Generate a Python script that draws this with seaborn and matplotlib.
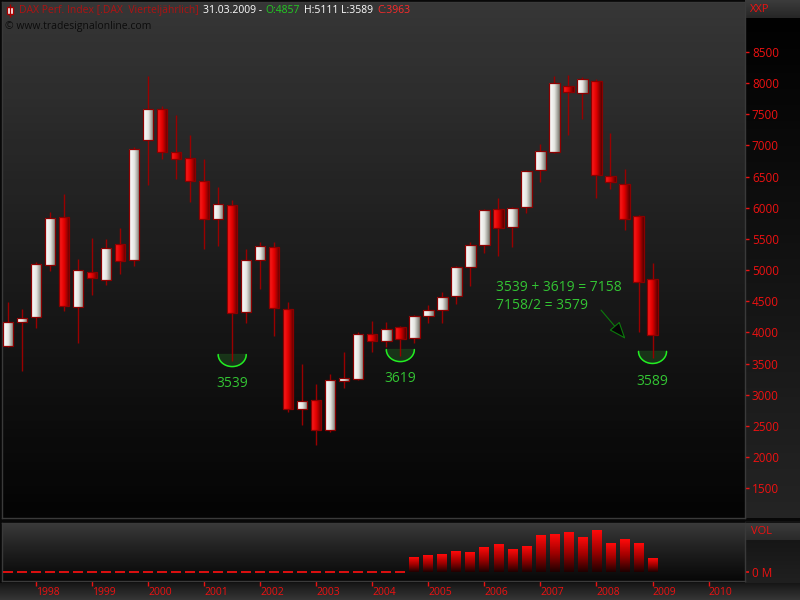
import numpy as np
import pandas as pd
import matplotlib
matplotlib.use("Agg")
import matplotlib.pyplot as plt
import seaborn as sns
from matplotlib.colors import LinearSegmentedColormap

# ------------------------------------------
# DATA: DAX quarterly candles, Q3 1997 .. Q1 2009
# ------------------------------------------
quarters = pd.period_range("1997Q3", "2009Q1", freq="Q").astype(str).tolist()
opens = [3781, 4166, 4250, 5081, 5852, 4400, 4969, 4840, 5418, 5161,
         7087, 7585, 6895, 6799, 6429, 5819, 6044, 4327, 5161, 5370,
         4375, 2770, 2914, 2433, 3219, 3251, 3973, 3861, 4086, 3909,
         4262, 4358, 4584, 5049, 5402, 5980, 5691, 6012, 6606, 6895,
         7954, 7842, 8035, 6510, 6381, 5868, 4857]
highs = [4487, 4375, 5130, 5932, 6221, 5180, 5514, 5498, 5675, 6975,
         8115, 7633, 7489, 7168, 6783, 6333, 6124, 5338, 5450, 5450,
         4487, 3492, 3171, 3332, 3685, 4005, 4182, 4166, 4102, 4278,
         4439, 4648, 5060, 5450, 5980, 6157, 6005, 6600, 7023, 8115,
         8131, 8099, 8067, 7200, 6622, 5880, 5111]
lows = [3760, 3380, 4070, 4985, 4343, 3830, 4600, 4760, 4937, 5065,
        6365, 6783, 6462, 6092, 5338, 5386, 3539, 4150, 4696, 3941,
        2722, 2513, 2192, 2400, 3107, 3235, 3685, 3765, 3619, 3829,
        4150, 4150, 4455, 4744, 5274, 5225, 5370, 5916, 6413, 6880,
        7168, 7425, 6157, 6301, 5643, 4006, 3589]
closes = [4166, 4225, 5097, 5830, 4423, 5002, 4870, 5360, 5150, 6950,
          7590, 6898, 6790, 6434, 5825, 6058, 4310, 5160, 5390, 4385,
          2770, 2895, 2430, 3230, 3260, 3968, 3858, 4052, 3893, 4258,
          4352, 4575, 5046, 5405, 5968, 5680, 6000, 6594, 6905, 7995,
          7860, 8060, 6530, 6410, 5825, 4810, 3963]
# volume (relative units), zero until Q3 2004
volumes = [0, 0, 0, 0, 0, 0, 0, 0, 0, 0,
           0, 0, 0, 0, 0, 0, 0, 0, 0, 0,
           0, 0, 0, 0, 0, 0, 0, 0, 0, 4.4,
           5.0, 5.3, 6.2, 5.9, 7.4, 8.3, 6.8, 7.7, 11.0, 11.3,
           11.9, 10.4, 12.5, 8.6, 9.8, 8.6, 4.1]
years = ['1998', '1999', '2000', '2001', '2002', '2003', '2004',
         '2005', '2006', '2007', '2008', '2009', '2010']
marked_lows = ['2001Q3', '2004Q3', '2009Q1']

df = pd.DataFrame({'quarter': quarters, 'open': opens, 'high': highs,
                   'low': lows, 'close': closes, 'volume': volumes})
df['pos'] = np.arange(len(df))
df['up'] = df['close'] >= df['open']

# ------------------------------------------
# STYLE
# ------------------------------------------
sns.set_theme(style="dark")
plt.rcParams['font.family'] = ['Open Sans', 'DejaVu Sans']
RED = '#ee1111'
GREEN = '#33c433'

red_cmap = LinearSegmentedColormap.from_list('rb', ['#ff2020', '#e00000', '#550000'])
white_cmap = LinearSegmentedColormap.from_list('wb', ['#ffffff', '#e6e6e2', '#76766c'])
vol_cmap = LinearSegmentedColormap.from_list('vb', ['#200000', '#a00000', '#ff0a0a'])
bg_cmap = LinearSegmentedColormap.from_list('bg', ['#363636', '#1c1c1c', '#040404'])
hgrad = np.linspace(0, 1, 64).reshape(1, -1)
vgrad = np.linspace(0, 1, 64).reshape(-1, 1)

W, H = 800, 600
def px(l, t, r, b):
    return [l / W, 1 - b / H, (r - l) / W, (b - t) / H]

fig = plt.figure(figsize=(8, 6), dpi=100, facecolor='#080808')

# background strips (pixel space)
bg = fig.add_axes([0, 0, 1, 1])
bg.set_xlim(0, W); bg.set_ylim(H, 0); bg.axis('off')
bg.imshow(vgrad, extent=[745, 800, 518, 0], cmap=LinearSegmentedColormap.from_list('rs', ['#000000', '#242424']), aspect='auto')
bg.imshow(vgrad, extent=[745, 800, 18, 0], cmap=LinearSegmentedColormap.from_list('xb', ['#3c3c3c', '#262626']), aspect='auto')
bg.imshow(vgrad, extent=[745, 800, 583, 521], cmap=LinearSegmentedColormap.from_list('vs', ['#121212', '#202020']), aspect='auto')
bg.imshow(vgrad, extent=[745, 800, 540, 523], cmap=LinearSegmentedColormap.from_list('vl', ['#3c3c3c', '#2a2a2a']), aspect='auto')
bg.imshow(vgrad, extent=[0, 800, 600, 583], cmap=LinearSegmentedColormap.from_list('bs', ['#161616', '#363636']), aspect='auto')
bg.set_xlim(0, W); bg.set_ylim(H, 0)
bg.text(750, 10, 'XXP', color=RED, fontsize=8, va='center')
bg.text(751, 531, 'VOL', color=RED, fontsize=8, va='center')

# ------------------------------------------
# MAIN CANDLE PANEL
# ------------------------------------------
ax = fig.add_axes(px(2, 2, 745, 518))
ax.imshow(vgrad, extent=[0, 1, 0, 1], transform=ax.transAxes, cmap=bg_cmap,
          aspect='auto', zorder=0)

ax.vlines(df['pos'], df['low'], df['high'], color='#990000', lw=1, zorder=2)
body_bottom = df[['open', 'close']].min(axis=1)
body_height = (df['close'] - df['open']).abs()
bars = ax.bar(df['pos'], body_height, bottom=body_bottom, width=0.74,
              facecolor='none', edgecolor='#8b0000', lw=0.9, zorder=4)
for bar, up in zip(bars, df['up']):
    x0, y0 = bar.get_x(), bar.get_y()
    im = ax.imshow(hgrad, extent=[x0, x0 + bar.get_width(), y0, y0 + bar.get_height()],
                   cmap=white_cmap if up else red_cmap, aspect='auto', zorder=3)
    im.set_clip_path(bar)

# marked lows: half-circle + value
t = np.linspace(np.pi, 2 * np.pi, 60)
lowpts = df[df['quarter'].isin(marked_lows)]
for k, (_, r) in enumerate(lowpts.iterrows()):
    cx, cy = r['pos'], r['low'] + 105
    xs, ys = cx + 1.0 * np.cos(t), cy + 193 * np.sin(t)
    ax.fill(xs, ys, color='#1a3a1a', alpha=0.85, zorder=1.5)
    ax.plot(xs, ys, color='#22ee22', lw=1.1, zorder=5)
    ax.annotate(str(r['low']), xy=(r['pos'], r['low']), xytext=(0, -22 - 2 * (k == 2)),
                textcoords='offset pixels', ha='center', va='center',
                color=GREEN, fontsize=10, zorder=6)

a, b = lowpts['low'].iloc[0], lowpts['low'].iloc[1]
ax.text(34.8, 4728, f"{a} + {b} = {a + b}", color=GREEN, fontsize=10, va='center', zorder=6)
ax.text(34.8, 4439, f"{a + b}/2 = {(a + b) // 2}", color=GREEN, fontsize=10, va='center', zorder=6)
ax.annotate('', xy=(44.2, 3861), xytext=(42.2, 4391),
            arrowprops=dict(arrowstyle='-|>,head_length=0.9,head_width=0.35',
                            ec='#0c7a0c', fc='#050505', lw=0.8), zorder=6)

ax.set_xlim(-0.43, 52.6)
ax.set_ylim(1020, 9303)
ax.yaxis.tick_right()
ax.set_yticks(range(1500, 9000, 500))
ax.tick_params(axis='y', colors=RED, labelcolor=RED, labelsize=8.5, length=3,
               width=1, pad=2, right=True, left=False)
ax.tick_params(axis='x', bottom=False, labelbottom=False)
for s in ax.spines.values():
    s.set_color('#3a3a3a'); s.set_linewidth(1)
ax.grid(False)

# ------------------------------------------
# VOLUME PANEL
# ------------------------------------------
axv = fig.add_axes(px(2, 523, 745, 581))
axv.imshow(vgrad, extent=[0, 1, 0, 1], transform=axv.transAxes,
           cmap=LinearSegmentedColormap.from_list('vbg', ['#3a3a3a', '#1e1e1e', '#080808']),
           aspect='auto', zorder=0)
sns.barplot(data=df, x='pos', y='volume', native_scale=True, errorbar=None,
            width=0.7, color=RED, ax=axv, zorder=3)
for p in list(axv.patches):
    if p.get_height() == 0:
        p.set_edgecolor('#ee1010'); p.set_linewidth(1.3)
    else:
        p.set_facecolor('none'); p.set_linewidth(0)
        x0 = p.get_x()
        im = axv.imshow(vgrad, extent=[x0, x0 + p.get_width(), 0, p.get_height()],
                        origin='lower', cmap=vol_cmap, aspect='auto', zorder=2)
        im.set_clip_path(p)

axv.set_xlim(-0.43, 52.6)
axv.set_ylim(-2.7, 14.6)
axv.set_xlabel(''); axv.set_ylabel('')
axv.yaxis.tick_right()
axv.set_yticks([0])
axv.set_yticklabels(['0 M'])
axv.tick_params(axis='y', colors=RED, labelcolor=RED, labelsize=8.5, length=3,
                pad=2, right=True, left=False)
axv.set_xticks([(int(y) - 1997) * 4 - 2 for y in years])
axv.set_xticklabels(years)
axv.tick_params(axis='x', colors=RED, labelcolor=RED, labelsize=7.5, length=3.5,
                width=1, pad=0.5, bottom=True, direction='out')
for lab in axv.get_xticklabels():
    lab.set_horizontalalignment('left')
for s in axv.spines.values():
    s.set_color('#3a3a3a'); s.set_linewidth(1)
axv.grid(False)

# ------------------------------------------
# HEADER OVERLAY (pieces chained left to right)
# ------------------------------------------
ov = fig.add_axes([0, 0, 1, 1], zorder=10)
ov.set_xlim(0, W); ov.set_ylim(H, 0); ov.axis('off')
ov.vlines(10, 4, 17, color='#aa0000', lw=1)
ov.add_patch(plt.Rectangle((7, 7), 6, 7, facecolor='white', edgecolor='#aa0000', lw=1))
last = df.iloc[-1]
fs = 7.5
pieces = [('31.03.2009 -', 'white'),
          (f"O:{last['open']}", '#22cc22'),
          (f"H:{last['high']} L:{last['low']}", 'white'),
          (f"C:{last['close']}", '#ff2a2a')]
prev = ov.text(19, 10.5, 'DAX Perf. Index [.DAX  Vierteljährlich]', color='#b01212',
               fontsize=fs, va='center')
for txt, col in pieces:
    prev = ov.annotate(txt, xy=(1, 0.5), xycoords=prev, xytext=(4, 0),
                       textcoords='offset pixels', va='center', ha='left',
                       color=col, fontsize=fs)
ov.text(5, 26, '© www.tradesignalonline.com', color='#0c0c0c', fontsize=fs, va='center')

plt.savefig('out.png', dpi=100, facecolor=fig.get_facecolor())
plt.close()
